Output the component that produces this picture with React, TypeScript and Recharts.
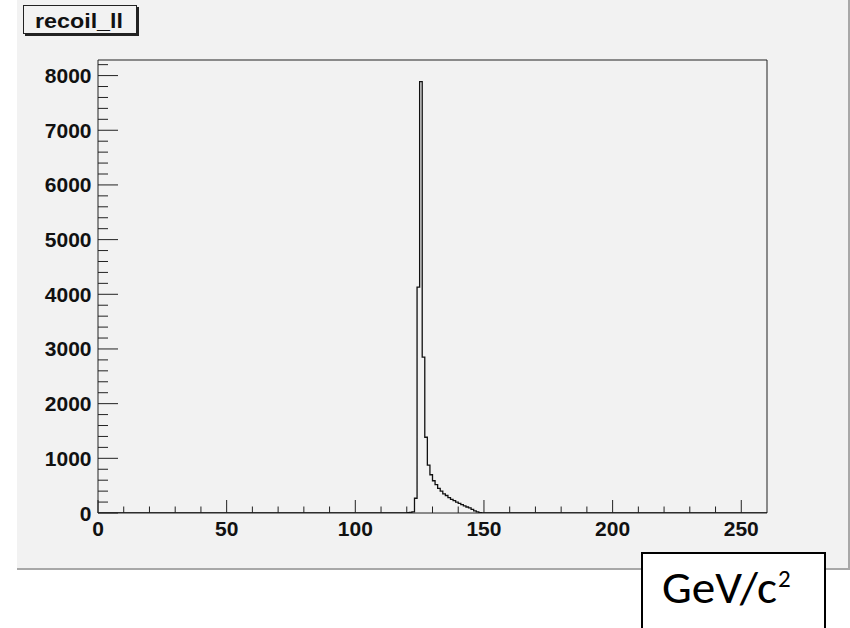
import React from 'react';
import { LineChart, Line, XAxis, YAxis, ReferenceArea } from 'recharts';

// Histogram "recoil_ll": 1 GeV bins over 0..260, non-zero bins start at 120
const binStart = 120;
const binCounts = [
  5, 10, 20, 270, 4130, 7890, 2850, 1385, 875, 700,
  590, 520, 450, 400, 350, 320, 280, 250, 225, 200,
  175, 155, 130, 110, 95, 65, 40, 20, 8,
];
const xMin = 0;
const xMax = 260;
const yMax = 8285;
const xMajorTicks = [0, 50, 100, 150, 200, 250];
const yMajorTicks = [0, 1000, 2000, 3000, 4000, 5000, 6000, 7000, 8000];
const xMinorStep = 10;
const yMinorStep = 200;
const histTitle = 'recoil_ll';
const unitText = 'GeV/c';
const unitSup = '2';

const data: { x: number; count: number }[] = [];
for (let e = xMin; e <= xMax; e++) {
  const i = e - binStart;
  data.push({ x: e, count: i >= 0 && i < binCounts.length ? binCounts[i] : 0 });
}

const xTicks: number[] = [];
for (let v = xMin; v <= 250; v += xMinorStep) xTicks.push(v);
const yTicks: number[] = [];
for (let v = 0; v <= 8200; v += yMinorStep) yTicks.push(v);

const labelFont = {
  fontFamily: '"Liberation Sans", Arial, Helvetica, sans-serif',
  fontWeight: 700 as const,
  fontSize: 21,
  fill: '#111',
};

const renderXTick = (props: any) => {
  const { x, y, payload } = props;
  const v = payload.value;
  const major = xMajorTicks.includes(v);
  return (
    <g key={`xt-${v}`}>
      <line x1={x} x2={x} y1={y} y2={y - (major ? 13 : 6.5)} stroke="#222" strokeWidth={1} />
      {major && (
        <text x={x} y={y + 22.5} textAnchor="middle" {...labelFont}>
          {v}
        </text>
      )}
    </g>
  );
};

const renderYTick = (props: any) => {
  const { x, y, payload } = props;
  const v = payload.value;
  const major = yMajorTicks.includes(v);
  return (
    <g key={`yt-${v}`}>
      <line x1={x} x2={x + (major ? 20 : 10)} y1={y} y2={y} stroke="#222" strokeWidth={1} />
      {major && (
        <text x={x - 6.5} y={y + 7.5} textAnchor="end" {...labelFont}>
          {v}
        </text>
      )}
    </g>
  );
};

export default function App() {
  return (
    <div style={{ position: 'absolute', left: 0, top: 0, width: 850, height: 628, background: '#fff', overflow: 'hidden' }}>
      <div
        style={{
          position: 'absolute',
          left: 17,
          top: 0,
          width: 831,
          height: 568,
          background: '#f2f2f2',
          borderRight: '2px solid #a8a8a8',
          borderBottom: '2px solid #a8a8a8',
        }}
      />
      <div style={{ position: 'absolute', left: 0, top: 0 }}>
        <LineChart width={850} height={628} data={data} margin={{ top: 60, right: 83, bottom: 0, left: 0 }}>
          <XAxis
            dataKey="x"
            type="number"
            domain={[xMin, xMax]}
            ticks={xTicks}
            interval={0}
            tickSize={0}
            tickMargin={0}
            height={115}
            axisLine={false}
            tickLine={false}
            tick={renderXTick}
            allowDataOverflow
          />
          <YAxis
            type="number"
            domain={[0, yMax]}
            ticks={yTicks}
            interval={0}
            tickSize={0}
            tickMargin={0}
            width={98}
            axisLine={false}
            tickLine={false}
            tick={renderYTick}
            allowDataOverflow
          />
          <ReferenceArea x1={xMin} x2={xMax} y1={0} y2={yMax} fill="none" fillOpacity={0} stroke="#222" strokeWidth={1} ifOverflow="visible" />
          <Line
            type="stepAfter"
            dataKey="count"
            stroke="#111"
            strokeWidth={1.3}
            fill="none"
            dot={false}
            activeDot={false}
            isAnimationActive={false}
          />
        </LineChart>
      </div>
      <svg width={850} height={628} style={{ position: 'absolute', left: 0, top: 0, pointerEvents: 'none' }}>
        <rect x={25} y={7} width={114} height={29} fill="#222" />
        <rect x={23.5} y={5.5} width={113} height={28} fill="#f2f2f2" stroke="#222" strokeWidth={1} />
        <text
          x={35}
          y={28}
          textLength={88}
          lengthAdjust="spacingAndGlyphs"
          style={{ fontFamily: '"Liberation Sans", Arial, sans-serif', fontWeight: 700, fontSize: 21 }}
          fill="#111"
        >
          {histTitle}
        </text>
        <rect x={642} y={553} width={183} height={100} fill="#fff" stroke="#000" strokeWidth={2} />
        <text
          x={662}
          y={603}
          textLength={115}
          lengthAdjust="spacingAndGlyphs"
          style={{ fontFamily: 'Carlito, Lato, "Open Sans", sans-serif', fontSize: 46 }}
          fill="#000"
        >
          {unitText}
        </text>
        <text x={778} y={587} style={{ fontFamily: 'Carlito, Lato, "Open Sans", sans-serif', fontSize: 25 }} fill="#000">
          {unitSup}
        </text>
      </svg>
    </div>
  );
}
